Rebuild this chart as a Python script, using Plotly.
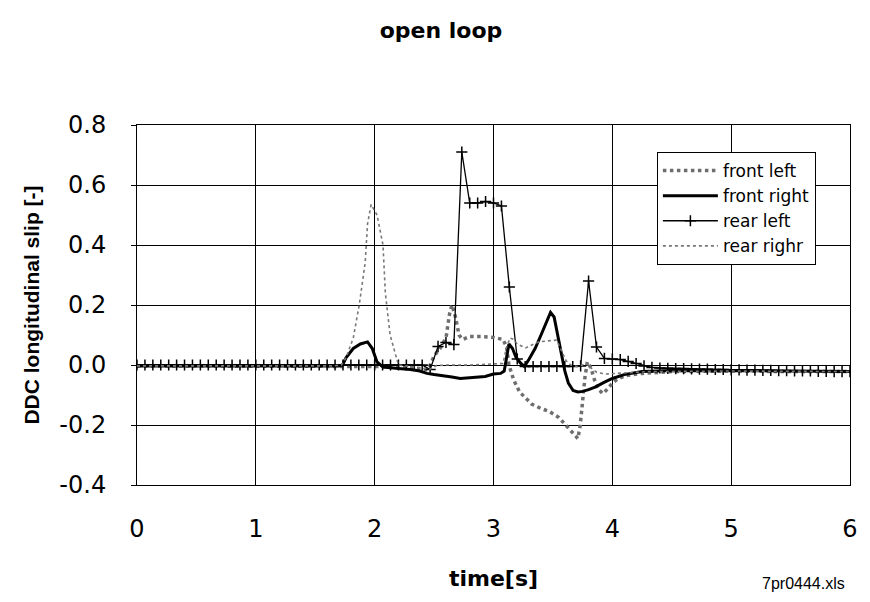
import plotly.graph_objects as go

# ---- data ----
front_left_t = [0, 1.0, 2.0, 2.3, 2.45, 2.5, 2.55, 2.6, 2.63, 2.65, 2.68, 2.71, 2.74, 2.8, 2.9, 3.0,
                3.08, 3.11, 3.13, 3.17, 3.22, 3.27, 3.32, 3.4, 3.47, 3.55, 3.62, 3.67, 3.71, 3.73,
                3.75, 3.77, 3.79, 3.82, 3.85, 3.88, 3.92, 3.96, 4.0, 4.05, 4.12, 4.25, 4.5, 5.0, 5.5, 6.0]
front_left_y = [-0.003, -0.003, -0.005, -0.008, -0.015, 0.03, 0.055, 0.09, 0.17, 0.2, 0.16, 0.1, 0.085,
                0.095, 0.095, 0.092, 0.085, 0.06, 0.0, -0.05, -0.09, -0.11, -0.13, -0.145, -0.155,
                -0.175, -0.205, -0.23, -0.245, -0.2, -0.12, -0.04, 0.01, -0.01, -0.05, -0.08, -0.095,
                -0.08, -0.06, -0.045, -0.035, -0.028, -0.022, -0.02, -0.022, -0.022]

front_right_t = [0, 1.7, 1.73, 1.76, 1.82, 1.88, 1.94, 1.98, 2.02, 2.07, 2.2, 2.3, 2.38, 2.44, 2.5,
                 2.58, 2.65, 2.72, 2.8, 2.86, 2.93, 3.0, 3.06, 3.09, 3.11, 3.13, 3.16, 3.19, 3.23,
                 3.26, 3.3, 3.35, 3.4, 3.45, 3.48, 3.51, 3.54, 3.57, 3.6, 3.63, 3.67, 3.71, 3.75,
                 3.8, 3.86, 3.93, 4.0, 4.1, 4.25, 4.5, 5.0, 5.5, 6.0]
front_right_y = [-0.003, -0.003, 0.0, 0.025, 0.055, 0.07, 0.077, 0.055, 0.01, -0.007, -0.012, -0.015,
                 -0.02, -0.028, -0.032, -0.035, -0.04, -0.045, -0.042, -0.04, -0.038, -0.03, -0.028,
                 -0.02, 0.03, 0.07, 0.055, 0.025, 0.005, -0.005, 0.02, 0.055, 0.1, 0.15, 0.175, 0.16,
                 0.1, 0.04, -0.02, -0.06, -0.085, -0.09, -0.088, -0.082, -0.073, -0.058, -0.045,
                 -0.032, -0.022, -0.018, -0.018, -0.02, -0.022]

rear_left_t = [round(i / 15, 4) for i in range(91)]  # sample times (one marker per sample)
rear_left_y = ([0.0] * 37 +
               [-0.015, 0.062, 0.075, 0.068, 0.71, 0.54, 0.54, 0.545, 0.54, 0.53, 0.26, 0.02, -0.005,
                -0.005, -0.005, -0.005, -0.005, -0.005, -0.005, -0.003, 0.28, 0.06, 0.022, 0.02,
                0.018, 0.012, 0.005, -0.003, -0.008,
                -0.01, -0.011, -0.012, -0.012, -0.013, -0.014, -0.014, -0.015, -0.015, -0.016,
                -0.016, -0.017, -0.017, -0.018, -0.018, -0.019, -0.019, -0.02, -0.02, -0.02,
                -0.021, -0.021, -0.022, -0.022, -0.022])

rear_right_t = [0, 1.65, 1.72, 1.76, 1.82, 1.87, 1.92, 1.94, 1.97, 2.02, 2.07, 2.09, 2.13, 2.18, 2.2,
                2.3, 2.4, 2.46, 2.52, 2.6, 2.8, 3.0, 3.08, 3.11, 3.14, 3.17, 3.2, 3.27, 3.33, 3.38,
                3.45, 3.53, 3.57, 3.61, 3.65, 3.7, 3.75, 3.78, 3.82, 3.87, 3.95, 4.1, 4.3, 5.0, 6.0]
rear_right_y = [-0.003, -0.003, 0.0, 0.025, 0.09, 0.2, 0.34, 0.47, 0.535, 0.5, 0.4, 0.24, 0.1, 0.025,
                0.0, -0.005, -0.01, -0.015, -0.002, 0.0, 0.0, 0.002, 0.005, 0.06, 0.09, 0.085, 0.07,
                0.057, 0.068, 0.077, 0.08, 0.083, 0.05, 0.015, 0.0, -0.005, 0.0, 0.008, -0.01,
                -0.025, -0.03, -0.027, -0.022, -0.02, -0.022]

x_ticks = [0, 1, 2, 3, 4, 5, 6]
y_ticks = [-0.4, -0.2, 0.0, 0.2, 0.4, 0.6, 0.8]

WIDE = "DejaVu Sans, Verdana, sans-serif"
NARROW = "Liberation Sans Narrow, Arial Narrow, Liberation Sans, Arial, sans-serif"
ARIAL = "Liberation Sans, Arial, sans-serif"

fig = go.Figure()
fig.add_trace(go.Scatter(x=front_left_t, y=front_left_y, name="front left", mode="lines",
                         line=dict(color="rgb(110,110,110)", width=3.5, dash="dot")))
fig.add_trace(go.Scatter(x=front_right_t, y=front_right_y, name="front right", mode="lines",
                         line=dict(color="black", width=3)))
fig.add_trace(go.Scatter(x=rear_left_t, y=rear_left_y, name="rear left", mode="lines+markers",
                         line=dict(color="black", width=1.3),
                         marker=dict(symbol="cross-thin", size=8, color="black",
                                     line=dict(color="black", width=1.5))))
fig.add_trace(go.Scatter(x=rear_right_t, y=rear_right_y, name="rear righr", mode="lines",
                         line=dict(color="rgb(120,120,120)", width=1.6, dash="dot")))

fig.update_layout(
    width=870, height=602,
    margin=dict(l=137, r=13, t=125, b=117),
    paper_bgcolor="white", plot_bgcolor="white",
    font=dict(family=WIDE, color="black"),
    title=dict(text="<b>open loop</b>", x=(444 - 137) / 720, xref="paper", xanchor="center",
               y=1 - 30 / 602, yanchor="middle", font=dict(size=22, family=WIDE)),
    showlegend=True,
    legend=dict(x=(662 - 137) / 720, y=(485 - 152) / 360, xanchor="left", yanchor="top",
                bgcolor="white", bordercolor="black", borderwidth=1, itemwidth=55,
                font=dict(size=17, family=WIDE), tracegroupgap=0),
)
fig.update_xaxes(range=[0, 6], tickvals=x_ticks, ticktext=[str(v) for v in x_ticks],
                 showgrid=True, gridcolor="black", gridwidth=1, zeroline=False,
                 showline=True, linecolor="black", linewidth=1, mirror=True,
                 ticks="", ticklabelstandoff=22, tickfont=dict(size=24, family=WIDE),
                 title=dict(text="<b>time[s]</b>", font=dict(size=22, family=WIDE), standoff=28))
fig.update_yaxes(range=[-0.4, 0.8], tickvals=y_ticks, ticktext=[f"{v:.1f}" for v in y_ticks],
                 showgrid=True, gridcolor="black", gridwidth=1, zeroline=False,
                 showline=True, linecolor="black", linewidth=1, mirror=True,
                 ticks="outside", ticklen=5, tickcolor="black", ticklabelstandoff=20,
                 tickfont=dict(size=24, family=WIDE),
                 title=dict(text="<b>DDC longitudinal slip [-]</b>", font=dict(size=21, family=NARROW),
                            standoff=14))
fig.add_annotation(text="7pr0444.xls", xref="paper", yref="paper",
                   x=(810 - 137) / 720, y=(485 - 583) / 360, xanchor="center", yanchor="middle",
                   showarrow=False, font=dict(size=16, family=ARIAL))

fig.write_html("out.html")
